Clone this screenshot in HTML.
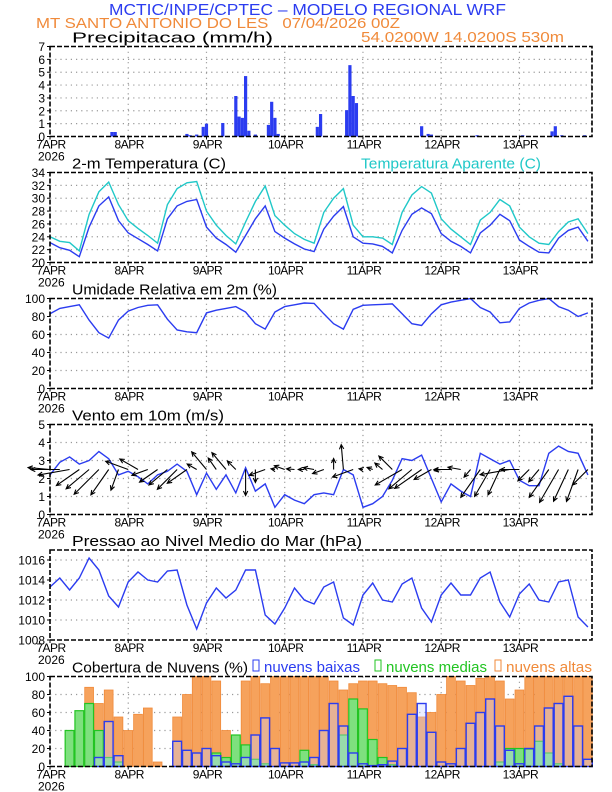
<!DOCTYPE html>
<html><head><meta charset="utf-8"><style>
html,body{margin:0;padding:0;background:#fff;}
svg{display:block;font-family:"Liberation Sans",sans-serif;}
text{white-space:pre;}
</style></head><body>
<svg id="chart" width="612" height="792" viewBox="0 0 612 792" xmlns="http://www.w3.org/2000/svg" xml:space="preserve">
<text x="109" y="15" font-size="16" fill="#2b3cf0" textLength="397" lengthAdjust="spacingAndGlyphs">MCTIC/INPE/CPTEC – MODELO REGIONAL WRF</text>
<text x="36" y="28" font-size="15" fill="#f08a3a" textLength="364" lengthAdjust="spacingAndGlyphs">MT SANTO ANTONIO DO LES   07/04/2026 00Z</text>
<text x="361" y="42" font-size="14.5" fill="#f08a3a" textLength="203" lengthAdjust="spacingAndGlyphs">54.0200W 14.0200S 530m</text>
<g id="plots"></g>
</svg>
<script>
// ---- data (time step 3h unless noted) ----
const dayLabels = ["7APR","8APR","9APR","10APR","11APR","12APR","13APR"];
const precipHours = [19,20,42,43,45,47,48,53,57,58,59,60,61,63,67,68,69,70,82,83,91,92,93,94,114,116,117,131,145,154,155,157,164];
const precipValues = [0.35,0.35,0.2,0.1,0.15,0.75,1.0,1.05,3.15,1.55,1.45,4.7,0.45,0.15,0.9,2.7,1.45,0.2,0.75,1.75,2.05,5.55,3.15,2.6,0.8,0.2,0.15,0.1,0.1,0.4,0.8,0.1,0.1];
const tempValues = [23.1,22.3,21.9,20.9,25.5,28.8,30.2,26.5,24.6,23.7,22.8,21.8,26.8,28.8,29.5,29.8,25.5,23.8,22.8,21.6,24.2,26.8,28.8,24.8,23.8,22.9,22.1,21.7,25.2,27.2,28.7,24.0,23.0,22.9,22.5,21.5,25.0,27.5,28.5,27.6,24.5,23.3,22.5,21.5,24.6,25.8,27.5,26.5,23.5,22.5,21.6,21.5,23.8,25.0,25.5,23.3];
const apparentValues = [24.0,23.3,23.1,21.8,27.5,31.0,32.5,29.0,26.5,25.3,24.2,23.0,29.0,31.5,32.4,32.6,28.0,25.8,24.2,22.9,26.3,29.5,31.9,27.3,25.8,24.5,23.6,23.0,27.8,30.0,31.5,25.8,24.0,24.0,23.8,22.8,27.8,30.5,31.8,30.8,26.8,25.2,24.0,22.8,26.6,27.8,29.8,28.8,25.5,24.0,23.0,22.8,24.8,26.3,26.8,24.5];
const rhValues = [83,89,91,93,76,62,56,76,86,90,92.5,93,77,65,63,62,84,87,89,91,85,72,66,85,91,93,95,94.5,83,72,66,88,92.5,93,93.5,94,83,72,70,83,93,96,98,100,90,85,73,74,89,95,98,100,91,87,80,84];
const windSpeed = [2.2,2.9,3.2,2.8,3.0,3.5,3.1,2.2,2.4,2.1,1.7,2.2,2.4,2.8,2.4,1.1,2.3,1.4,2.2,1.2,2.6,1.3,1.7,0.4,1.1,0.8,0.6,1.1,1.2,1.1,2.5,2.2,0.4,0.6,1.0,1.9,3.1,3.0,3.3,2.0,0.7,1.7,1.3,1.0,3.4,3.1,2.8,3.0,1.9,1.6,1.6,3.4,3.8,3.5,3.4,2.2];
const windDir = [175,180,190,215,220,225,235,250,160,150,200,215,220,225,215,150,130,125,130,135,270,270,200,170,160,175,180,170,200,90,95,200,170,160,140,135,210,220,215,210,190,180,170,230,235,240,245,190,180,225,230,235,240,245,250,225];
const pressureValues = [1013.3,1014.2,1013.0,1014.2,1016.2,1015.0,1012.4,1011.3,1013.8,1014.8,1014.0,1013.8,1014.9,1015.0,1011.5,1009.1,1011.7,1013.2,1012.2,1013.0,1015.0,1015.0,1010.5,1009.6,1011.2,1013.2,1012.0,1011.6,1013.3,1013.8,1010.2,1009.5,1012.5,1013.7,1012.0,1011.8,1013.6,1014.2,1011.2,1009.8,1012.5,1013.7,1012.5,1012.5,1014.2,1014.8,1011.8,1010.3,1012.6,1013.6,1012.0,1011.8,1013.8,1014.0,1010.3,1009.3];
const cloudHigh = [0,0,0,60,88,70,85,55,40,58,65,5,0,55,80,100,100,95,40,10,95,100,92,100,100,100,100,100,100,95,85,92,95,95,92,90,88,82,55,60,80,100,95,90,98,100,95,75,85,100,100,100,100,100,100,100];
const cloudMid = [0,0,40,62,70,40,10,5,0,0,0,0,0,0,0,0,0,15,10,35,24,8,3,0,0,0,18,2,0,0,35,75,64,30,10,2,0,0,0,0,0,0,0,0,0,0,5,20,20,19,28,15,3,0,0,0];
const cloudLow = [0,0,0,0,0,10,50,12,0,0,0,0,0,28,18,15,20,12,5,3,10,35,54,20,4,4,5,10,40,70,45,15,3,1,2,6,20,58,70,38,5,3,20,48,60,75,45,18,3,20,45,65,70,78,45,8];
const STEP = 3;

// ---- layout ----
const NS = "http://www.w3.org/2000/svg";
const root = document.getElementById('plots');
const X0 = 50, PXH = 3.26, XR = 592;
function xs(h){ return X0 + h*PXH; }
function mk(tag, attrs, parent){
  const e = document.createElementNS(NS, tag);
  for (const k in attrs) e.setAttribute(k, attrs[k]);
  (parent||root).appendChild(e); return e;
}
function panel(name, top, bottom, ymin, ymax, tickStep, title, titleLen){
  const g = mk('g', {});
  
  
  const ys = v => bottom - (v - ymin) / (ymax - ymin) * (bottom - top);
  for (let v = ymin + tickStep; v < ymax - 1e-9; v += tickStep) {
    const l = mk('line', {x1:X0, x2:XR, y1:ys(v), y2:ys(v), stroke:'#999', 'stroke-width':1.2, 'stroke-dasharray':'1.2,4'}, g);
    
    
  }
  for (let d = 1; d < 7; d++) {
    const l = mk('line', {x1:xs(24*d), x2:xs(24*d), y1:top, y2:bottom, stroke:'#999', 'stroke-width':1.2, 'stroke-dasharray':'1.2,4'}, g);
    
    
  }
  for (let v = ymin; v <= ymax + 1e-9; v += tickStep) {
    const t = mk('text', {x:45, y:ys(v)+4.5, 'font-size':12, 'text-anchor':'end', fill:'#000'}, g);
    t.textContent = String(Math.round(v));
    
    
    mk('line', {x1:X0-3, x2:X0, y1:ys(v), y2:ys(v), stroke:'#000'}, g);
  }
  dayLabels.forEach((lab, i) => {
    const t = mk('text', {x:xs(24*i)+1, y:bottom+12, 'font-size':12, 'text-anchor':'middle', fill:'#000', 'letter-spacing':'-0.5'}, g);
    t.textContent = lab;
    
    
    mk('line', {x1:xs(24*i), x2:xs(24*i), y1:bottom, y2:bottom+3, stroke:'#000'}, g);
  });
  const yr = mk('text', {x:38, y:bottom+24, 'font-size':12, fill:'#000'}, g);
  yr.textContent = '2026';
  
  
  const tt = mk('text', {x:72, y:top-4, 'font-size':15, fill:'#000', textLength:titleLen, lengthAdjust:'spacingAndGlyphs'}, g);
  tt.textContent = title;
  
  
  const data = mk('g', {}, g);
  return {g, data, ys, top, bottom,
    frame(){ const f = mk('rect', {x:X0, y:top, width:XR-X0, height:bottom-top, fill:'none', stroke:'#000', 'stroke-width':1.6, 'stroke-dasharray':'5,2'}, g);
      
       }};
}
function line(p, vals, color, name){
  const pts = vals.map((v,i) => xs(i*STEP).toFixed(1) + ',' + p.ys(v).toFixed(1)).join(' ');
  const pl = mk('polyline', {points:pts, fill:'none', stroke:color, 'stroke-width':1.4}, p.data);
  
  
}

const p1 = panel('precipitation', 46.5, 136.5, 0, 7, 1, 'Precipitacao (mm/h)', 201);
precipHours.forEach((h, i) => {
  const y = p1.ys(precipValues[i]);
  const r = mk('rect', {x:xs(h)-1.6, y:y, width:3.2, height:p1.bottom-y, fill:'#2b3cf0'}, p1.data);
  
  
});
p1.frame();

const p2 = panel('temperature', 172.5, 262.5, 20, 34, 2, '2-m Temperatura (C)', 154);
line(p2, apparentValues, '#20c8c8', 'apparent-temperature-line');
line(p2, tempValues, '#2b3cf0', 'temperature-line');
const at = mk('text', {x:361, y:168.5, 'font-size':15, fill:'#20c8c8', textLength:180, lengthAdjust:'spacingAndGlyphs'}, p2.g);
at.textContent = 'Temperatura Aparente (C)';


p2.frame();

const p3 = panel('humidity', 298.5, 388.5, 0, 100, 20, 'Umidade Relativa em 2m (%)', 205);
line(p3, rhValues, '#2b3cf0', 'humidity-line');
p3.frame();

const p4 = panel('wind', 424.5, 514.5, 0, 5, 1, 'Vento em 10m (m/s)', 152);
line(p4, windSpeed, '#2b3cf0', 'wind-speed-line');
const yb = p4.ys(2.5);
windSpeed.forEach((s, i) => {
  const a = windDir[i] * Math.PI / 180, L = s * 10;
  const x1 = xs(i*STEP), x2 = x1 + L*Math.cos(a), y2 = yb - L*Math.sin(a);
  const hl = 5, h1 = a + Math.PI - 0.45, h2 = a + Math.PI + 0.45;
  const d = `M${x1},${yb}L${x2},${y2}M${x2+hl*Math.cos(h1)},${y2-hl*Math.sin(h1)}L${x2},${y2}L${x2+hl*Math.cos(h2)},${y2-hl*Math.sin(h2)}`;
  const pth = mk('path', {d, fill:'none', stroke:'#000', 'stroke-width':1.1}, p4.data);
  
  
});
p4.frame();

const p5 = panel('pressure', 550, 640, 1008, 1017, 2, 'Pressao ao Nivel Medio do Mar (hPa)', 290);
line(p5, pressureValues, '#2b3cf0', 'pressure-line');
p5.frame();

const p6 = panel('clouds', 676.5, 766.5, 0, 100, 20, 'Cobertura de Nuvens (%)', 176);
function bars(vals, fill, stroke, name, sw){
  vals.forEach((v, i) => {
    if (v <= 0) return;
    const y = p6.ys(v);
    const r = mk('rect', {x:xs(i*STEP)-4.4, y:y, width:8.8, height:p6.bottom-y, fill:fill, stroke:stroke, 'stroke-width':sw}, p6.data);
    
    
  });
}
bars(cloudHigh, '#f6a25c', '#f08a3a', 'high-cloud-bar', 0.8);
bars(cloudMid, '#7ee07e', '#22c422', 'mid-cloud-bar', 1.2);
bars(cloudLow, 'rgba(200,210,255,0.35)', '#2b3cf0', 'low-cloud-bar', 1.4);
const leg = [['nuvens baixas','#2b3cf0',253,96],['nuvens medias','#22c422',375,101],['nuvens altas','#f08a3a',495,86]];
leg.forEach(([t,c,x,w]) => {
  const gg = mk('g', {}, p6.g);
  
  
  mk('rect', {x:x, y:660, width:6, height:11, fill:'none', stroke:c, 'stroke-width':1}, gg);
  const tx = mk('text', {x:x+11, y:672, 'font-size':15, fill:c, textLength:w, lengthAdjust:'spacingAndGlyphs'}, gg);
  tx.textContent = t;
});
p6.frame();
</script>
</body></html>
